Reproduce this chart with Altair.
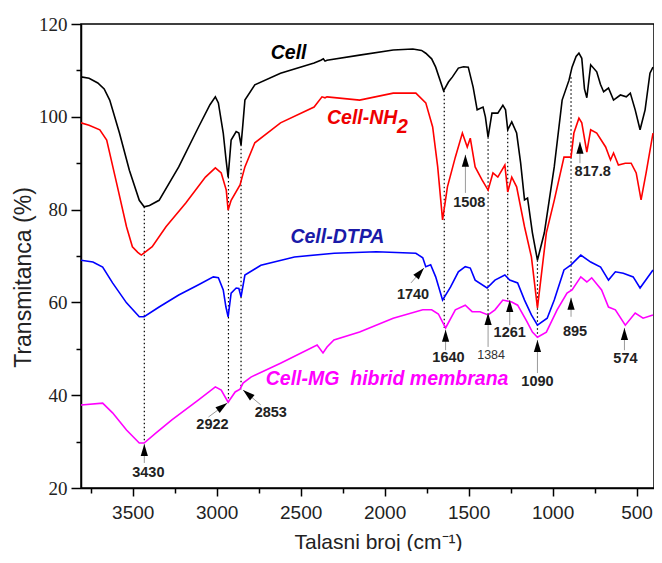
import altair as alt
import pandas as pd

# ---------------- data ----------------
cell_wn = [3808, 3760, 3708, 3670, 3637, 3579, 3520, 3461, 3432, 3400, 3343, 3226, 3108, 3040, 3008, 2990,
           2961, 2945, 2932, 2914, 2884, 2868, 2855, 2845, 2832, 2773, 2620, 2420, 2380, 2365, 2355, 2343,
           2149, 1949, 1832, 1780, 1755, 1720, 1696, 1649, 1620, 1596, 1561, 1530, 1502, 1473, 1449, 1414,
           1400, 1384, 1361, 1326, 1296, 1280, 1267, 1243, 1214, 1190, 1167, 1149, 1120, 1090, 1049, 1020,
           990, 943, 902, 884, 860, 843, 826, 810, 796, 773, 737, 715, 696, 667, 637, 596, 561, 537, 508,
           479, 449, 420, 402]
cell_t = [108.6, 108.3, 107.3, 106.0, 103.6, 96.5, 88.5, 82.0, 80.6, 80.9, 82.0, 89.2, 97.8, 102.6, 104.3, 103.0,
          96.5, 91.0, 87.0, 95.0, 96.8, 96.5, 93.9, 98.0, 103.6, 106.9, 109.4, 111.6, 112.2, 112.5, 112.0, 112.2,
          113.3, 114.4, 114.6, 114.3, 113.7, 112.5, 110.7, 105.6, 107.5, 108.6, 110.5, 110.8, 110.7, 106.4, 101.5, 102.1,
          100.0, 95.6, 100.8, 100.8, 102.5, 101.5, 97.2, 98.9, 96.5, 90.0, 82.1, 82.5, 75.0, 69.1, 75.0, 82.0,
          89.2, 103.6, 107.9, 110.7, 113.0, 113.7, 112.6, 106.0, 104.1, 111.2, 109.7, 107.0, 105.4, 106.2, 103.6, 104.7, 104.3, 105.1, 101.5,
          97.2, 101.5, 109.4, 110.7]

nh2_wn = [3808, 3760, 3696, 3655, 3596, 3537, 3502, 3470, 3449, 3384, 3302, 3184, 3067, 3008, 2973, 2943,
          2932, 2914, 2861, 2832, 2773, 2620, 2420, 2373, 2355, 2343, 2149, 1949, 1814, 1755, 1714, 1684,
          1655, 1626, 1579, 1537, 1508, 1490, 1461, 1420, 1384, 1355, 1326, 1284, 1267, 1243, 1214, 1167,
          1126, 1090, 1037, 990, 932, 890, 873, 843, 826, 796, 773, 737, 684, 655, 637, 608, 567, 532,
          502, 473, 443, 402]
nh2_t = [98.7, 98.2, 97.2, 95.0, 85.7, 76.3, 72.0, 70.8, 70.2, 72.0, 76.3, 81.4, 87.0, 89.0, 87.9, 84.2,
         79.9, 82.0, 85.3, 89.2, 94.4, 98.7, 102.1, 104.3, 104.1, 104.3, 103.6, 105.1, 105.1, 103.0, 97.8, 89.2,
         77.8, 84.9, 91.3, 96.5, 93.5, 95.4, 89.2, 86.4, 84.2, 87.9, 87.0, 89.6, 83.8, 87.0, 84.9, 76.3,
         69.8, 58.8, 75.0, 82.0, 91.3, 91.3, 96.5, 99.7, 98.7, 92.4, 97.2, 96.5, 93.5, 90.7, 92.2, 89.6, 90.0, 90.0,
         87.9, 82.1, 87.9, 96.5]

dtpa_wn = [3808, 3737, 3679, 3620, 3537, 3461, 3432, 3343, 3226, 3108, 3020, 2990, 2961, 2945, 2932, 2914,
           2884, 2868, 2855, 2832, 2737, 2537, 2300, 2049, 1814, 1773, 1755, 1726, 1696, 1655, 1608, 1561,
           1520, 1490, 1461, 1390, 1343, 1284, 1255, 1208, 1167, 1126, 1090, 1032, 990, 932, 890, 832,
           773, 714, 667, 626, 579, 520, 479, 402]
dtpa_t = [69.1, 68.7, 67.6, 64.2, 59.9, 56.9, 56.9, 59.0, 61.6, 63.8, 65.5, 65.3, 62.7, 59.0, 56.9, 62.0,
          63.1, 63.0, 61.2, 65.9, 68.0, 69.8, 70.6, 70.9, 70.6, 69.6, 67.7, 68.1, 65.5, 60.5, 63.3, 66.6,
          67.7, 67.4, 64.8, 63.1, 64.8, 65.9, 64.8, 64.2, 60.5, 57.3, 55.1, 56.6, 60.5, 67.0, 68.1, 70.2,
          68.7, 67.6, 64.8, 66.6, 66.3, 65.5, 63.1, 67.0]

mg_wn = [3808, 3679, 3620, 3537, 3461, 3432, 3361, 3267, 3108, 3008, 2973, 2932, 2890, 2861, 2843, 2796,
         2620, 2402, 2367, 2343, 2302, 2149, 1949, 1773, 1720, 1680, 1637, 1579, 1520, 1479, 1432, 1384,
         1343, 1296, 1243, 1208, 1155, 1120, 1090, 1037, 973, 914, 884, 832, 796, 767, 708, 667, 626,
         567, 508, 461, 402]
mg_t = [37.9, 38.3, 36.2, 32.5, 29.7, 29.7, 31.9, 34.7, 39.0, 41.8, 41.1, 38.5, 40.7, 41.3, 42.6, 43.9,
        46.9, 50.8, 49.1, 50.4, 51.9, 53.6, 56.6, 58.4, 58.4, 57.5, 54.5, 58.4, 59.4, 58.0, 58.0, 57.3,
        58.4, 60.5, 60.1, 59.4, 56.0, 53.6, 52.5, 53.6, 58.4, 62.0, 62.7, 65.5, 64.4, 65.3, 62.7, 59.0, 58.4,
        55.1, 57.7, 56.6, 57.3]

series_names = ["Cell", "Cell-NH2", "Cell-DTPA", "Cell-MG"]
series_colors = ["#000000", "#ff0000", "#0000ff", "#ff00ff"]

# dotted guide lines: wavenumber, top and bottom transmittance
guide_wn = [3431, 2930, 2855, 1645, 1384, 1267, 1090, 890]
guide_top = [80.6, 87.0, 94.0, 105.6, 95.6, 97.2, 69.1, 108.5]
guide_bot = [29.7, 38.5, 41.3, 54.5, 57.3, 60.3, 52.5, 62.7]

# peak annotations: label, arrow tip, arrow tail, label position, arrow direction
peak_text = ["3430", "2922", "2853", "1740", "1640", "1384", "1261", "1090", "895", "574", "1508", "817.8"]
tip_wn = [3431, 2937, 2843, 1766, 1637, 1384, 1255, 1090, 890, 572, 1519, 837]
tip_t = [29.5, 38.3, 41.1, 67.4, 54.1, 57.7, 60.5, 51.9, 61.0, 54.5, 91.8, 94.6]
tail_wn = [3431, 3049, 2737, 1843, 1637, 1384, 1255, 1090, 890, 572, 1519, 837]
tail_t = [25.4, 35.3, 37.9, 64.2, 49.7, 50.4, 55.1, 44.8, 56.9, 49.7, 83.6, 90.0]
lab_wn = [3407, 3025, 2678, 1831, 1620, 1366, 1255, 1090, 866, 566, 1496, 761]
lab_t = [23.2, 33.6, 36.2, 61.6, 48.0, 48.7, 53.4, 42.8, 53.6, 47.8, 81.4, 88.1]
arrow_angle = [0, 54, 310, 41, 0, 0, 0, 0, 0, 0, 0, 0]

# series name labels (left edge position)
name_text = ["Cell", "Cell-NH", "2", "Cell-DTPA", "Cell-MG\u00a0\u00a0hibrid membrana"]
name_wn = [2678, 2343, 1926, 2561, 2708]
name_t = [113.7, 99.7, 97.8, 74.1, 43.5]
name_color = ["#000000", "#ee0000", "#ee0000", "#1a1aa8", "#ff00ff"]

x_major = [3500, 3000, 2500, 2000, 1500, 1000, 500]
x_minor = [3750, 3250, 2750, 2250, 1750, 1250, 750]
y_major = [20, 40, 60, 80, 100, 120]
y_minor = [30, 50, 70, 90, 110]

# ---------------- tables ----------------
rows = []
for name, wn, t in zip(series_names, [cell_wn, nh2_wn, dtpa_wn, mg_wn], [cell_t, nh2_t, dtpa_t, mg_t]):
    for i, (a, b) in enumerate(zip(wn, t)):
        rows.append({"series": name, "wn": a, "t": b, "i": i})
spectra = pd.DataFrame(rows)

guides = pd.DataFrame({"wn": guide_wn, "t1": guide_top, "t2": guide_bot})
peaks = pd.DataFrame({"text": peak_text, "tw": tip_wn, "tt": tip_t, "aw": tail_wn, "at": tail_t,
                      "lw": lab_wn, "lt": lab_t, "ang": arrow_angle})
names = pd.DataFrame({"text": name_text, "wn": name_wn, "t": name_t, "c": name_color})

xscale = alt.Scale(domain=[396, 3808], reverse=True, nice=False, zero=False)
yscale = alt.Scale(domain=[20, 120], nice=False, zero=False)

x_main_axis = alt.Axis(values=x_major, orient="bottom", format="d", tickSize=8, labelPadding=7,
                       labelFont="Liberation Sans", labelFontSize=19, labelColor="#222",
                       title="Talasni broj (cm\u207b\u00b9)", titleFont="Liberation Sans",
                       titleFontSize=21, titleFontWeight="normal", titleColor="#222",
                       titleX=297, titleY=54, titleBaseline="middle", titleAlign="center",
                       grid=False)
y_main_axis = alt.Axis(values=y_major, orient="left", format="d", tickSize=10, labelPadding=4,
                       labelFont="Liberation Serif", labelFontSize=19, labelColor="#222",
                       title="Transmitanca (%)", titleFont="Liberation Sans",
                       titleFontSize=23, titleFontWeight="normal", titleColor="#222",
                       titleX=-58, titleY=253, titleBaseline="middle", titleAlign="center",
                       titleAngle=270, grid=False)
x_minor_axis = alt.Axis(values=x_minor, orient="bottom", tickSize=5, labels=False, title=None,
                        domain=False, grid=False)
y_minor_axis = alt.Axis(values=y_minor, orient="left", tickSize=5, labels=False, title=None,
                        domain=False, grid=False)

lines = alt.Chart(spectra).mark_line(strokeWidth=1.6, clip=True).encode(
    x=alt.X("wn:Q", scale=xscale, axis=x_main_axis),
    y=alt.Y("t:Q", scale=yscale, axis=y_main_axis),
    color=alt.Color("series:N", scale=alt.Scale(domain=series_names, range=series_colors), legend=None),
    order="i:Q",
    detail="series:N",
)

dotted = alt.Chart(guides).mark_rule(color="black", strokeWidth=1.2, strokeDash=[1.5, 2.5]).encode(
    x=alt.X("wn:Q", scale=xscale, axis=x_minor_axis),
    y=alt.Y("t1:Q", scale=yscale, axis=y_minor_axis),
    y2="t2:Q",
)

stems = alt.Chart(peaks).mark_rule(color="#9a9a9a", strokeWidth=1).encode(
    x=alt.X("tw:Q", scale=xscale, axis=None),
    y=alt.Y("tt:Q", scale=yscale, axis=None),
    x2="aw:Q",
    y2="at:Q",
)

heads = alt.Chart(peaks).mark_point(shape="M0,0L0.6,2L-0.6,2Z", filled=True, size=144,
                                    color="black", opacity=1, strokeWidth=0).encode(
    x=alt.X("tw:Q", scale=xscale, axis=None),
    y=alt.Y("tt:Q", scale=yscale, axis=None),
    angle=alt.Angle("ang:Q", scale=None),
)

peak_labels = alt.Chart(peaks).transform_filter("datum.text != '1384'").mark_text(
    font="Liberation Sans", fontSize=14.5, fontWeight="bold", color="#222",
    align="center", baseline="middle").encode(
    x=alt.X("lw:Q", scale=xscale, axis=None),
    y=alt.Y("lt:Q", scale=yscale, axis=None),
    text="text:N",
)

peak_small = alt.Chart(peaks).transform_filter("datum.text == '1384'").mark_text(
    font="Liberation Sans", fontSize=12.5, fontWeight="normal", color="#333",
    align="center", baseline="middle").encode(
    x=alt.X("lw:Q", scale=xscale, axis=None),
    y=alt.Y("lt:Q", scale=yscale, axis=None),
    text="text:N",
)

name_labels = alt.Chart(names).mark_text(
    font="Liberation Sans", fontSize=19.5, fontWeight="bold", fontStyle="italic",
    align="left", baseline="middle").encode(
    x=alt.X("wn:Q", scale=xscale, axis=None),
    y=alt.Y("t:Q", scale=yscale, axis=None),
    text="text:N",
    color=alt.Color("c:N", scale=None),
)

chart = alt.layer(dotted, lines, stems, heads, peak_labels, peak_small, name_labels).resolve_axis(
    x="independent", y="independent"
).properties(
    width=573, height=464,
    autosize=alt.AutoSizeParams(type="none"),
    padding={"left": 73, "top": 16, "right": 0, "bottom": 63},
    background="white",
).configure_view(
    stroke="black", strokeWidth=1.5
).configure_axis(
    domainColor="black", domainWidth=1.5, tickColor="black", tickWidth=1.5
)

chart.save("out.html", embed_options={"renderer": "svg", "actions": False})
